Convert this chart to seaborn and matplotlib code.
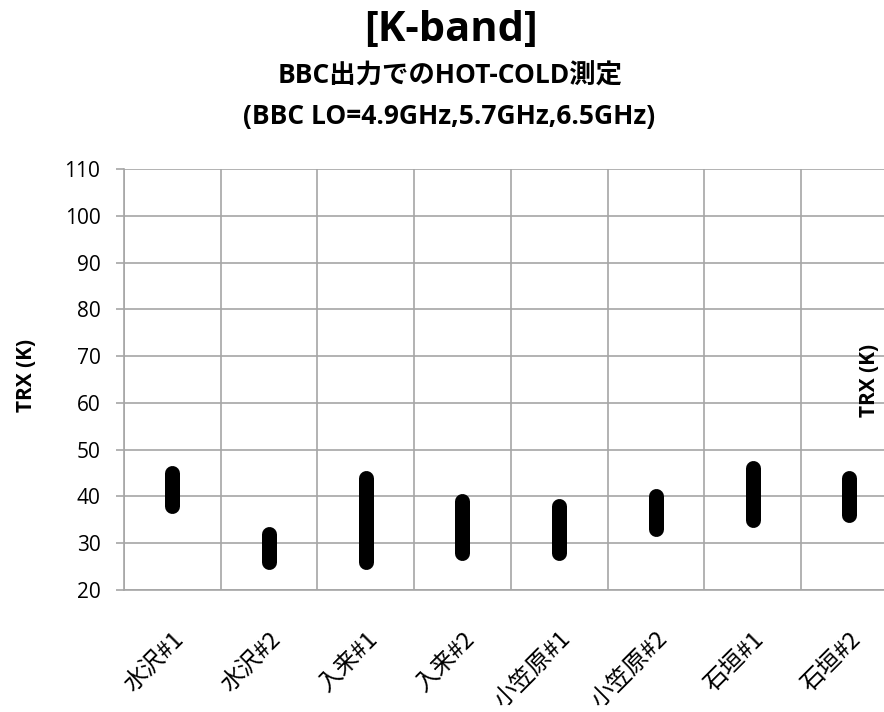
# K-band HOT-COLD measurement: TRX range per station
import numpy as np
import pandas as pd
import matplotlib
matplotlib.use("Agg")
import matplotlib.pyplot as plt
import matplotlib.transforms as mtransforms
import seaborn as sns

stations = ['水沢#1', '水沢#2', '入来#1', '入来#2', '小笠原#1', '小笠原#2', '石垣#1', '石垣#2']
trx_low = [38, 26, 26, 28, 28, 33, 35, 36]
trx_high = [45, 32, 44, 39, 38, 40, 46, 44]
y_ticks = list(range(20, 111, 10))

# long format: two points per station -> one vertical segment per station
pos = np.arange(len(stations))
df = pd.DataFrame({
    'pos': np.concatenate([pos, pos]),
    'station': stations + stations,
    'TRX': trx_low + trx_high,
})

sns.set_theme(style="white", rc={'text.color': 'black', 'xtick.color': 'black',
                                 'ytick.color': 'black', 'axes.labelcolor': 'black'})
plt.rcParams['font.family'] = ['Open Sans', 'Noto Sans CJK JP', 'DejaVu Sans']

fig = plt.figure(figsize=(8.84, 7.12), dpi=100)
ax = fig.add_axes([0.1403, 0.1713, 0.8751, 0.5913])

sns.lineplot(data=df, x='pos', y='TRX', units='station', estimator=None,
             color='black', linewidth=10.8, ax=ax, legend=False,
             solid_capstyle='round')

ax.set_xlim(-0.5, len(stations) - 0.5)
ax.set_ylim(20, 110)
ax.set_yticks(y_ticks)
ax.set_yticklabels([str(t) for t in y_ticks], fontsize=15)
ax.set_xticks(pos)
ax.set_xticklabels(stations, rotation=45, ha='right', va='top', rotation_mode='anchor',
                   fontsize=17, family=['Noto Sans CJK JP', 'DejaVu Sans'])
# nudge the rotated labels a bit to the right, like the original
shift = mtransforms.ScaledTranslation(6 / 100, 0, fig.dpi_scale_trans)
for lab in ax.get_xticklabels():
    lab.set_transform(lab.get_transform() + shift)
ax.set_xticks(np.arange(-0.5, len(stations)), minor=True)

ax.grid(True, axis='y', which='major', color='#a6a6a6', linewidth=1.2)
ax.grid(True, axis='x', which='minor', color='#a6a6a6', linewidth=1.2)
ax.grid(False, axis='x', which='major')
ax.tick_params(axis='y', length=6, width=1.2, color='#a6a6a6', pad=11, left=True)
ax.tick_params(axis='x', which='both', length=0, pad=27)

for side in ['top', 'right']:
    ax.spines[side].set_visible(False)
for side in ['left', 'bottom']:
    ax.spines[side].set_color('#a6a6a6')
    ax.spines[side].set_linewidth(1.2)

ax.set_xlabel('')
ax.set_ylabel('')

fig.text(0.030, 0.473, 'TRX (K)', rotation=90, ha='center', va='center',
         fontsize=15, fontweight='bold')
fig.text(0.984, 0.466, 'TRX (K)', rotation=90, ha='center', va='center',
         fontsize=15, fontweight='bold')

fig.text(0.510, 0.957, '[K-band]', ha='center', va='center',
         fontsize=30, fontweight='bold')
fig.text(0.509, 0.893, 'BBC出力でのHOT-COLD測定', ha='center', va='center',
         fontsize=19, fontweight='bold')
fig.text(0.508, 0.836, '(BBC LO=4.9GHz,5.7GHz,6.5GHz)', ha='center', va='center',
         fontsize=19, fontweight='bold')

fig.savefig('out.png', dpi=100)
